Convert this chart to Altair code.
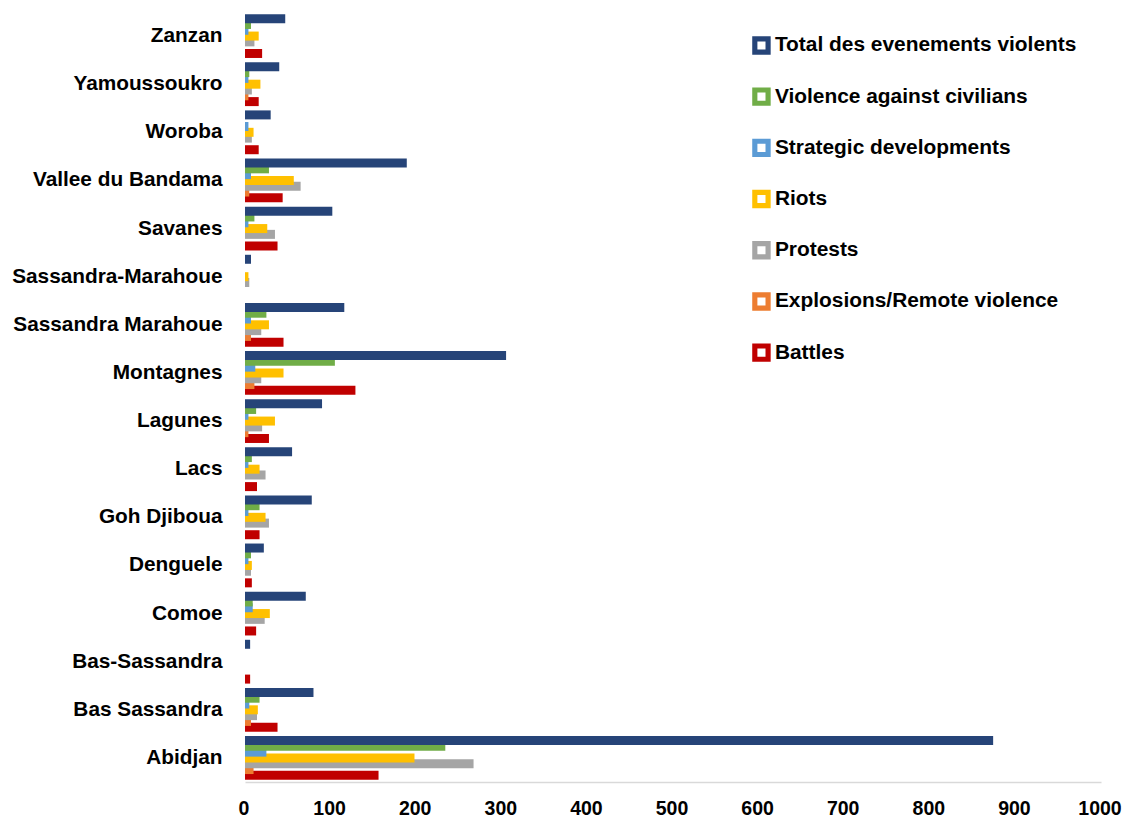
import altair as alt
import pandas as pd

regions = ["Zanzan", "Yamoussoukro", "Woroba", "Vallee du Bandama", "Savanes",
           "Sassandra-Marahoue", "Sassandra Marahoue", "Montagnes", "Lagunes", "Lacs",
           "Goh Djiboua", "Denguele", "Comoe", "Bas-Sassandra", "Bas Sassandra", "Abidjan"]

series = ["Total des evenements violents", "Violence against civilians",
          "Strategic developments", "Riots", "Protests",
          "Explosions/Remote violence", "Battles"]

colors = ["#264478", "#70AD47", "#5B9BD5", "#FFC000", "#A5A5A5", "#ED7D31", "#C00000"]

total      = [47, 40, 30, 189, 102, 7, 116, 305, 90, 55, 78, 22, 71, 6, 80, 874]
violence   = [7, 5, 0, 28, 11, 0, 25, 105, 13, 8, 17, 7, 9, 0, 17, 234]
strategic  = [4, 4, 4, 7, 4, 0, 7, 12, 4, 4, 4, 4, 9, 0, 5, 25]
riots      = [16, 18, 10, 57, 26, 4, 28, 45, 35, 17, 24, 8, 29, 0, 15, 198]
protests   = [11, 8, 8, 65, 35, 5, 19, 19, 20, 24, 28, 7, 23, 0, 14, 267]
explosions = [0, 4, 0, 5, 0, 0, 7, 11, 4, 0, 0, 0, 0, 0, 7, 10]
battles    = [20, 16, 16, 44, 38, 0, 45, 129, 28, 14, 17, 8, 13, 6, 38, 156]

values = [total, violence, strategic, riots, protests, explosions, battles]

rows = []
for si, (s, vals) in enumerate(zip(series, values)):
    for r, v in zip(regions, vals):
        rows.append({"region": r, "series": s, "value": v, "z": len(series) - si})
df = pd.DataFrame(rows)

font = "Liberation Sans"

# square ring symbol (outer filled square with an inner hole)
ring = "M-1,-1H1V1H-1Z M-0.44,-0.44V0.44H0.44V-0.44Z"

chart = alt.Chart(df).mark_bar(size=9).encode(
    y=alt.Y("region:N", sort=regions, title=None,
            scale=alt.Scale(paddingInner=0.156, paddingOuter=0.078),
            axis=alt.Axis(domain=False, ticks=False, labelPadding=23,
                          labelFont=font, labelFontSize=20.8, labelFontWeight="bold",
                          labelColor="#000000", labelLimit=400)),
    yOffset=alt.YOffset("series:N", sort=series,
                        scale=alt.Scale(paddingInner=0, paddingOuter=0)),
    x=alt.X("value:Q", stack=None, title=None,
            scale=alt.Scale(domain=[0, 1000]),
            axis=alt.Axis(values=list(range(0, 1001, 100)), format="d", grid=False, ticks=False,
                          domainColor="#D9D9D9", domainWidth=1.5, labelPadding=17,
                          labelOffset=-1.5,
                          labelFont=font, labelFontSize=19.5, labelFontWeight="bold",
                          labelColor="#000000", labelFlush=False)),
    color=alt.Color("series:N", sort=series,
                    scale=alt.Scale(domain=series, range=colors),
                    legend=alt.Legend(title=None, orient="none", legendX=506, legendY=23,
                                      symbolType=ring, symbolSize=340,
                                      symbolStrokeWidth=0, symbolOpacity=1,
                                      labelFont=font, labelFontSize=20.9, labelFontWeight="bold",
                                      labelColor="#000000", labelOffset=3,
                                      rowPadding=29.2, labelLimit=500, padding=0)),
    order=alt.Order("z:Q"),
).properties(
    width=856, height=770,
    autosize=alt.AutoSizeParams(type="none"),
    padding={"left": 237, "top": 4, "right": 21, "bottom": 40},
).configure_view(stroke=None)

chart.save("out.html", embed_options={"renderer": "svg", "actions": False})
